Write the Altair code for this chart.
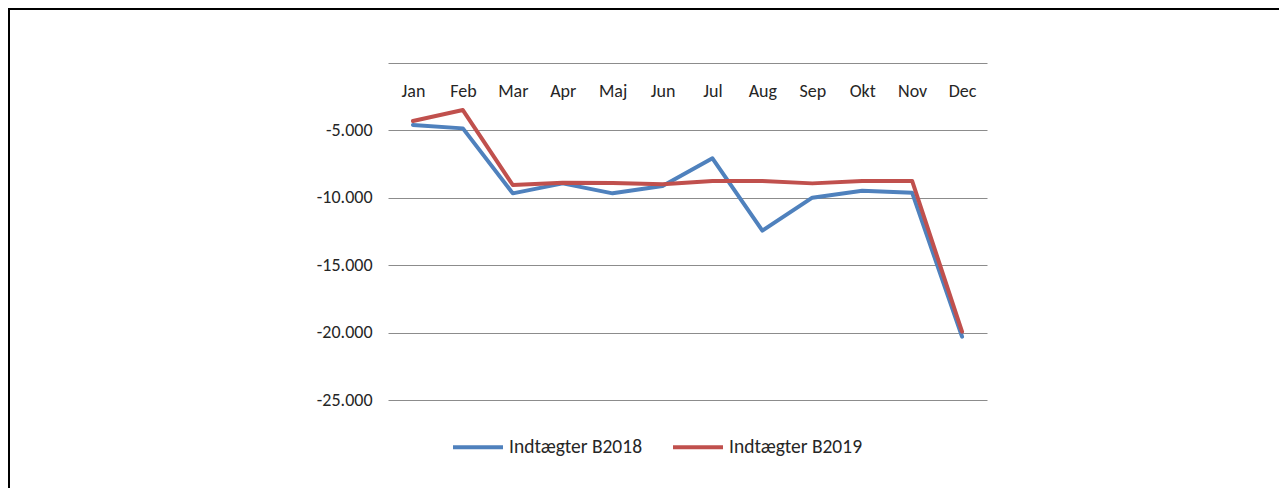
import altair as alt
import pandas as pd

months = ["Jan", "Feb", "Mar", "Apr", "Maj", "Jun", "Jul", "Aug", "Sep", "Okt", "Nov", "Dec"]
b2018 = [-4600, -4850, -9670, -8930, -9670, -9120, -7070, -12440, -9990, -9470, -9620, -20300]
b2019 = [-4300, -3490, -9050, -8880, -8900, -9000, -8750, -8750, -8930, -8750, -8750, -19930]
series_names = ["Indtægter B2018", "Indtægter B2019"]
series_colors = ["#4F81BD", "#C0504D"]
y_ticks = [0, -5000, -10000, -15000, -20000, -25000]

rows = []
for name, vals in zip(series_names, [b2018, b2019]):
    for m, v in zip(months, vals):
        rows.append({"Måned": m, "Serie": name, "Værdi": v})
df = pd.DataFrame(rows)

FONT = "Calibri, Carlito, Liberation Sans, sans-serif"

lines = alt.Chart(df).mark_line(strokeWidth=4, strokeJoin="round", strokeCap="round").encode(
    x=alt.X("Måned:N", sort=months,
            scale=alt.Scale(type="point", padding=0.5),
            axis=alt.Axis(orient="top", title=None, domain=False, ticks=False, tickSize=0,
                          grid=False, labelPadding=-33, labelBaseline="alphabetic",
                          labelAngle=0, labelFontSize=18, labelFont=FONT, labelColor="#262626")),
    y=alt.Y("Værdi:Q", scale=alt.Scale(domain=[-25000, 0], nice=False),
            axis=alt.Axis(title=None, values=y_ticks, domain=False, ticks=False,
                          grid=True, gridColor="#8c8c8c", gridWidth=1,
                          labelPadding=16, labelFontSize=18, labelFont=FONT, labelColor="#262626",
                          labelExpr="datum.value == 0 ? '' : '-' + replace(format(abs(datum.value), ','), ',', '.')")),
    color=alt.Color("Serie:N", scale=alt.Scale(domain=series_names, range=series_colors),
                    legend=alt.Legend(orient="none", legendX=63, legendY=357, direction="horizontal",
                                      title=None, symbolType="stroke", symbolSize=2500,
                                      symbolStrokeWidth=4, labelOffset=4, columnPadding=22,
                                      labelFontSize=19.5, labelFont=FONT, labelColor="#262626")),
    detail="Serie:N",
)

frame_df = pd.DataFrame({"k": [0]})
left_edge = alt.Chart(frame_df).mark_rule(color="black", strokeWidth=2).encode(
    x=alt.value(-379), y=alt.value(-55), y2=alt.value(700))
top_edge = alt.Chart(frame_df).mark_rule(color="black", strokeWidth=2).encode(
    x=alt.value(-380), x2=alt.value(1500), y=alt.value(-54))

chart = alt.layer(lines, left_edge, top_edge).properties(
    width=599, height=337,
    autosize=alt.AutoSizeParams(type="none"),
    padding={"left": 380, "top": 55, "right": 292, "bottom": 88},
).configure_view(stroke=None)

chart.save("out.html", embed_options={"renderer": "svg", "actions": False})
